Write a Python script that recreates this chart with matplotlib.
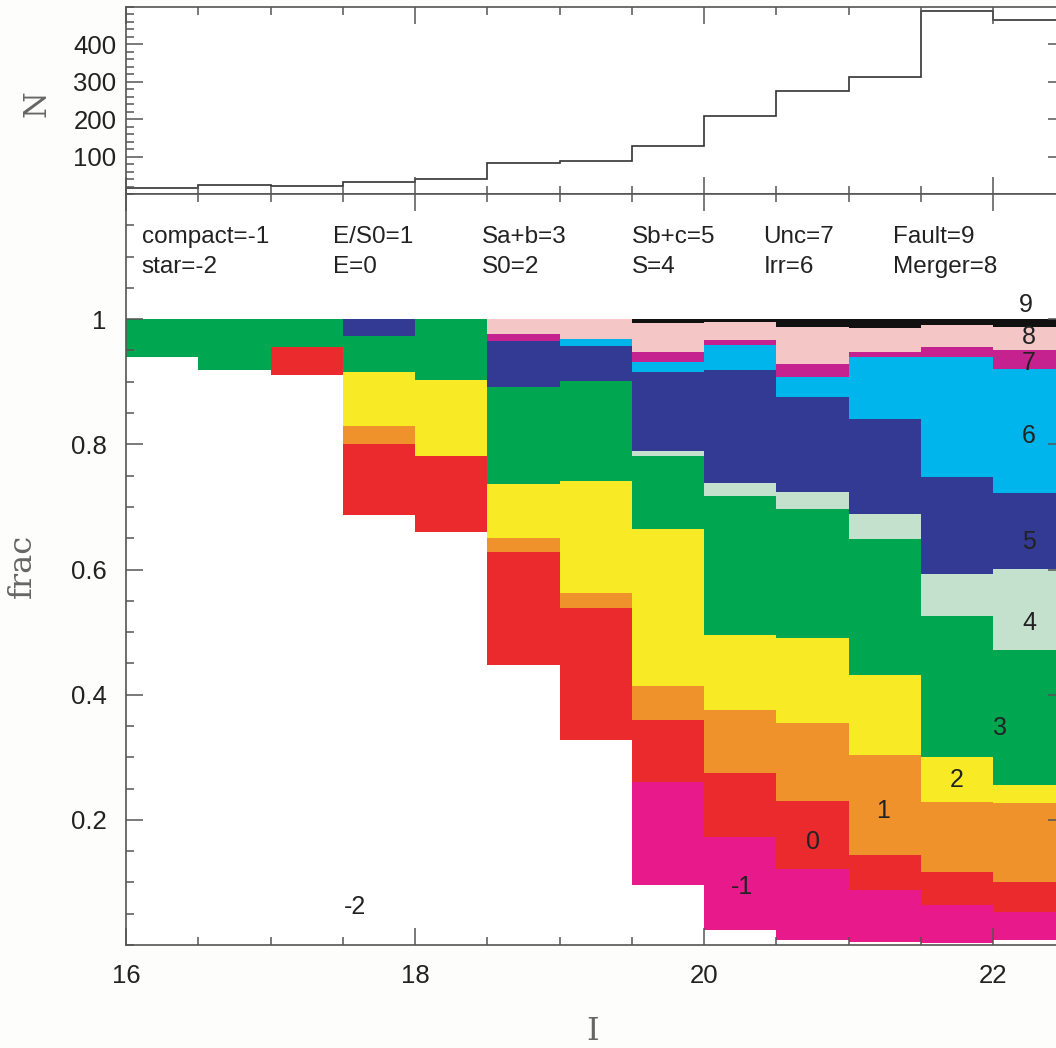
import matplotlib
matplotlib.use("Agg")
import matplotlib.pyplot as plt
import numpy as np
from matplotlib.ticker import MultipleLocator, FixedLocator

plt.rcParams['font.family'] = ['Liberation Sans', 'DejaVu Sans']

# magnitude bins (I), width 0.5
edges = np.arange(16.0, 23.0, 0.5)
counts = [15, 23, 21, 33, 40, 82, 88, 128, 209, 275, 312, 488, 464]

# fraction of each morphological class per bin
star = [0.940, 0.919, 0.910, 0.687, 0.660, 0.447, 0.327, 0.096, 0.024, 0.008, 0.005, 0.003, 0.008]
compact = [0, 0, 0, 0, 0, 0, 0, 0.164, 0.149, 0.113, 0.083, 0.061, 0.045]
ell = [0, 0, 0.045, 0.114, 0.121, 0.181, 0.212, 0.100, 0.102, 0.109, 0.056, 0.053, 0.048]
es0 = [0, 0, 0, 0.028, 0, 0.023, 0.024, 0.054, 0.100, 0.125, 0.159, 0.112, 0.126]
s0 = [0, 0, 0, 0.087, 0.122, 0.085, 0.178, 0.251, 0.121, 0.136, 0.129, 0.072, 0.029]
sab = [0.060, 0.081, 0.045, 0.057, 0.097, 0.156, 0.160, 0.116, 0.222, 0.206, 0.216, 0.224, 0.216]
spiral = [0, 0, 0, 0, 0, 0, 0, 0.008, 0.020, 0.027, 0.041, 0.068, 0.129]
sbc = [0, 0, 0, 0.027, 0, 0.073, 0.056, 0.127, 0.181, 0.152, 0.152, 0.155, 0.122]
irr = [0, 0, 0, 0, 0, 0, 0.011, 0.016, 0.040, 0.031, 0.099, 0.192, 0.197]
unc = [0, 0, 0, 0, 0, 0.012, 0, 0.015, 0.008, 0.021, 0.007, 0.016, 0.030]
merger = [0, 0, 0, 0, 0, 0.023, 0.032, 0.047, 0.029, 0.059, 0.039, 0.034, 0.038]
fault = [0, 0, 0, 0, 0, 0, 0, 0.006, 0.004, 0.013, 0.014, 0.010, 0.012]

classes = [star, compact, ell, es0, s0, sab, spiral, sbc, irr, unc, merger, fault]
colors = ['#ffffff', '#e8198b', '#eb2a2e', '#f0922c', '#f8ea24', '#00a650',
          '#c3e1cc', '#323a94', '#00b4ec', '#c6228f', '#f4c6c6', '#111111']

key_top = ['compact=-1', 'E/S0=1', 'Sa+b=3', 'Sb+c=5', 'Unc=7', 'Fault=9']
key_bot = ['star=-2', 'E=0', 'S0=2', 'S=4', 'Irr=6', 'Merger=8']
key_x = [16.109, 17.435, 18.462, 19.50, 20.411, 21.306]

code_labels = ['-2', '-1', '0', '1', '2', '3', '4', '5', '6', '7', '8', '9']
code_x = [17.585, 20.266, 20.752, 21.24, 21.746, 22.05, 22.25, 22.25, 22.25, 22.25, 22.25, 22.23]
code_y = [0.06, 0.093, 0.164, 0.214, 0.264, 0.346, 0.515, 0.644, 0.814, 0.930, 0.971, 1.022]

W, H = 1056, 1048
fig = plt.figure(figsize=(W / 100, H / 100), dpi=100)
x0 = 126 / W
wid = (6.5 * 144.5) / W
ax_top = fig.add_axes([x0, 1 - 194 / H, wid, (194 - 7) / H])
ax = fig.add_axes([x0, 1 - 945 / H, wid, (945 - 194) / H])

spine_col = '#555555'

def style(a):
    for s in a.spines.values():
        s.set_color(spine_col)
        s.set_linewidth(1.2)
    a.tick_params(which='both', direction='in', top=True, right=True,
                  color=spine_col, width=1.1)
    a.tick_params(which='major', length=12.5)
    a.tick_params(which='minor', length=6)
    a.xaxis.set_major_locator(FixedLocator([16, 18, 20, 22]))
    a.xaxis.set_minor_locator(MultipleLocator(0.5))
    a.set_xlim(16, 22.5)

# top: number per bin
style(ax_top)
ax_top.stairs(counts, edges, color='#333333', linewidth=1.2)
ax_top.set_ylim(0, 500)
ax_top.yaxis.set_major_locator(FixedLocator([100, 200, 300, 400]))
ax_top.yaxis.set_minor_locator(MultipleLocator(20))
ax_top.tick_params(axis='x', labelbottom=False)
ax_top.tick_params(axis='y', labelsize=18.5, pad=7, labelcolor='#222222')

# bottom: stacked fractions
style(ax)
bottom = np.zeros(len(counts))
for vals, c in zip(classes, colors):
    ax.bar(edges[:-1], vals, width=0.5, align='edge', bottom=bottom,
           color=c, linewidth=0)
    bottom += np.array(vals)
ax.set_ylim(0, 1.2)
ax.yaxis.set_major_locator(FixedLocator([0.2, 0.4, 0.6, 0.8, 1.0]))
ax.yaxis.set_minor_locator(MultipleLocator(0.05))
ax.set_yticklabels(['0.2', '0.4', '0.6', '0.8', '1'])
ax.tick_params(axis='both', labelsize=18.5, labelcolor='#222222')
ax.tick_params(axis='y', pad=14)
ax.tick_params(axis='x', pad=14)

for x, t1, t2 in zip(key_x, key_top, key_bot):
    ax.text(x, 1.1216, t1, fontsize=17.5, va='baseline', ha='left', color='#222222')
    ax.text(x, 1.0736, t2, fontsize=17.5, va='baseline', ha='left', color='#222222')

for x, y, t in zip(code_x, code_y, code_labels):
    ax.text(x, y, t, fontsize=18, ha='center', va='center', color='#222222')

serif = ['DejaVu Serif']
fig.text(22 / W, 1 - 566 / H, 'frac', family=serif, fontsize=23, rotation=90,
         ha='center', va='center', color='#666666')
fig.text(37 / W, 1 - 104 / H, 'N', family=serif, fontsize=22, rotation=90,
         ha='center', va='center', color='#666666')
fig.text(593 / W, 1 - 1031 / H, 'I', family=serif, fontsize=23,
         ha='center', va='center', color='#666666')

fig.savefig('out.png', dpi=100, facecolor='#fdfdfb')
